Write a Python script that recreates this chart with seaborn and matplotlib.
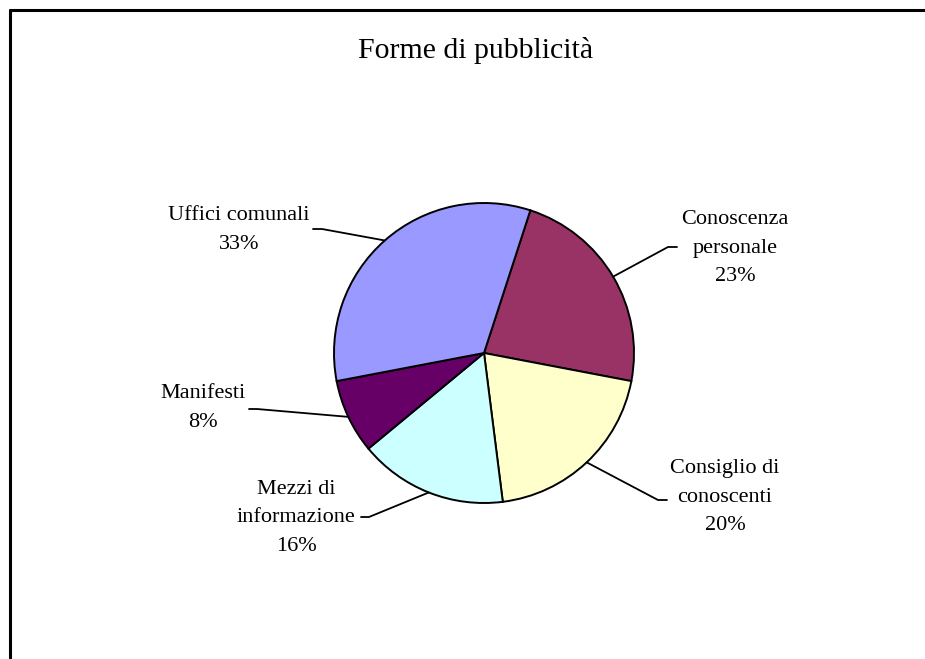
import matplotlib
matplotlib.use("Agg")
import matplotlib.pyplot as plt
import seaborn as sns
import numpy as np

# data (clockwise from the top)
categories = ["Conoscenza\npersonale", "Consiglio di\nconoscenti", "Mezzi di\ninformazione",
              "Manifesti", "Uffici comunali"]
shares = [23, 20, 16, 8, 33]
colors = ["#993366", "#FFFFCC", "#CCFFFF", "#660066", "#9999FF"]

sns.set_theme(style="white")
plt.rcParams["font.family"] = ["Liberation Serif", "DejaVu Serif"]
plt.rcParams["text.color"] = "black"

W, H = 925, 659
CX, CY, R = 484, 353, 150  # pie centre / radius in pixels

# label block centre and leader elbow / end (pixels)
label_pos = [(735, 248), (725, 497), (296, 518), (203, 408), (239, 230)]
elbows = [((668, 247), (677, 247)), ((658, 500), (667, 500)), ((369, 517), (361, 517)),
          ((257, 409), (249, 409)), ((322, 229), (313, 229))]


def to_data(p):
    return ((p[0] - CX) / R, (CY - p[1]) / R)


fig = plt.figure(figsize=(W / 100, H / 100), dpi=100)
ax = fig.add_axes([0, 0, 1, 1])

wedges, _ = ax.pie(shares, colors=sns.color_palette(colors), startangle=72, counterclock=False,
                   radius=1, center=(0, 0), frame=True,
                   wedgeprops=dict(edgecolor="black", linewidth=1.4))
ax.set_xlim(-CX / R, (W - CX) / R)
ax.set_ylim((CY - H) / R, CY / R)
ax.set_aspect("equal")
ax.axis("off")

for w, name, val, pos, (elb, end) in zip(wedges, categories, shares, label_pos, elbows):
    ang = np.deg2rad((w.theta1 + w.theta2) / 2)
    edge = (np.cos(ang), np.sin(ang))
    e1 = to_data(elb)
    e2 = to_data(end)
    ax.plot([edge[0], e1[0], e2[0]], [edge[1], e1[1], e2[1]], color="black", lw=1.3)
    tx, ty = to_data(pos)
    ax.text(tx, ty, f"{name}\n{val}%", ha="center", va="center", fontsize=16,
            linespacing=1.68, color="black")

fig.text(476 / W, 1 - 51 / H, "Forme di pubblicità", ha="center", va="center",
         fontsize=21.5, color="black")

# chart frame (only top and left visible)
fig.add_artist(plt.Line2D([9.5 / W, 9.5 / W], [0, 1 - 9.5 / H], color="black", lw=2.2,
                          transform=fig.transFigure))
fig.add_artist(plt.Line2D([9.5 / W, 1], [1 - 9.5 / H, 1 - 9.5 / H], color="black", lw=2.2,
                          transform=fig.transFigure))

fig.savefig("out.png", dpi=100, facecolor="white")
